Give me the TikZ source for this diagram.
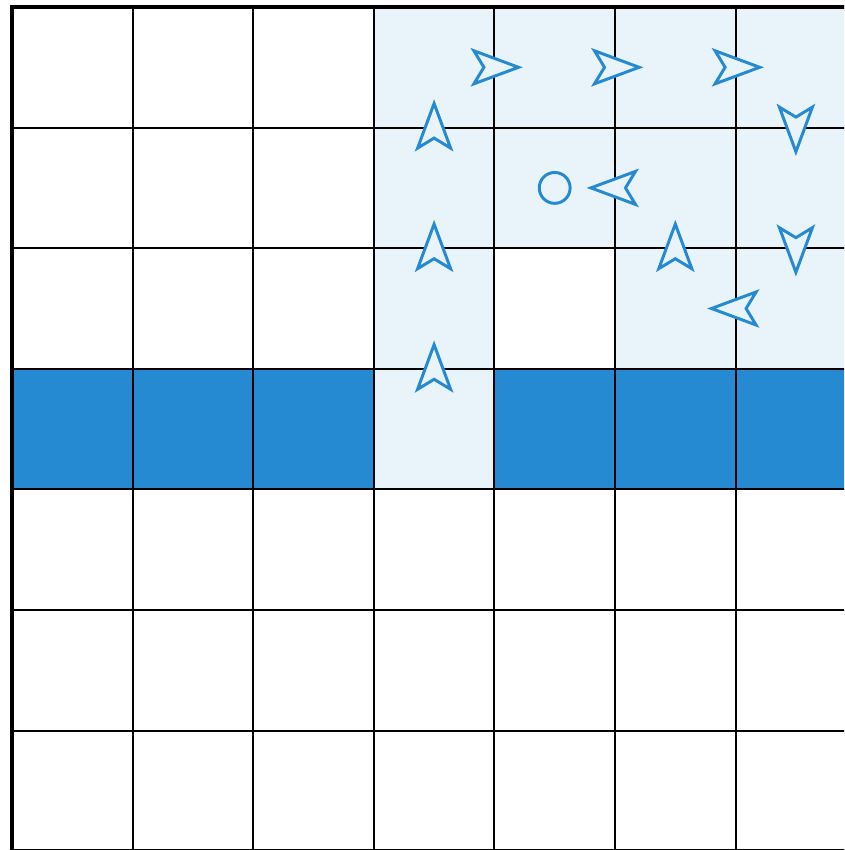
\documentclass[tikz,border=0pt]{standalone}
\usepackage{amsmath,amssymb}
\usepackage{tikz}
\usepackage{xcolor}
\definecolor{pathblue}{RGB}{38,138,210}
\definecolor{paleblue}{RGB}{232,243,250}

\begin{document}
\begin{tikzpicture}
 \useasboundingbox (-0.0995,0.01) rectangle (6.899,7.058);
 \clip (-0.0995,0.01) rectangle (6.899,7.058);
 \begin{scope}
  % visited cells
  \foreach \i/\j in {3/6,4/6,5/6,6/6,3/5,4/5,5/5,6/5,3/4,5/4,6/4,3/3}
   \fill[paleblue] (\i,\j) rectangle +(1,1);
  % blocked row
  \foreach \i in {0,1,2,4,5,6}
   \fill[pathblue] (\i,3) rectangle +(1,1);
  \draw[step=1,black,line width=0.5pt] (0,0) grid (7,7);
  \draw[line width=1.05pt] (0,0) rectangle (7,7);
  % moves
  \foreach \x/\y/\a in {3.5/4/90,3.5/5/90,3.5/6/90,4/6.5/0,5/6.5/0,6/6.5/0,
                        6.5/6/-90,6.5/5/-90,6/4.5/180,5.5/5/90,5/5.5/180}
   \draw[pathblue,line width=0.7pt,fill=paleblue,shift={(\x,\y)},rotate=\a]
    (0.2,0) -- (-0.17,0.137) -- (-0.087,0) -- (-0.17,-0.137) -- cycle;
  \draw[pathblue,line width=0.7pt] (4.5,5.5) circle (0.128);
 \end{scope}
\end{tikzpicture}
\end{document}
